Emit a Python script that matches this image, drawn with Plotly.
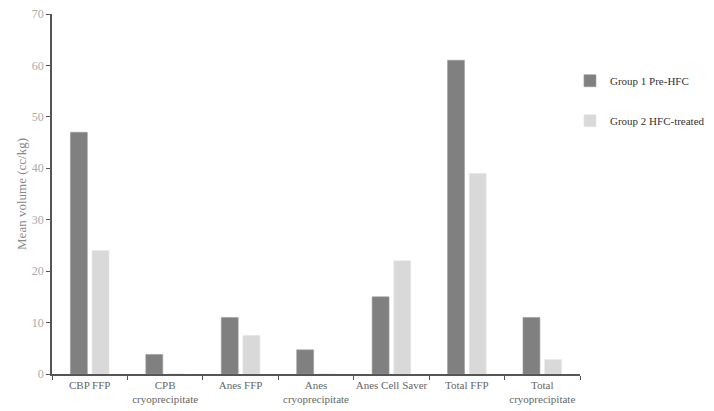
import plotly.graph_objects as go

categories = ["CBP FFP", "CPB<br>cryoprecipitate", "Anes FFP", "Anes<br>cryoprecipitate",
              "Anes Cell Saver", "Total FFP", "Total<br>cryoprecipitate"]
group1_pre_hfc = [47, 3.8, 11, 4.7, 15, 61, 11]
group2_hfc_treated = [24, 0, 7.5, 0, 22, 39, 2.8]

fig = go.Figure()
fig.add_trace(go.Bar(x=categories, y=group1_pre_hfc, name="Group 1 Pre-HFC",
                     marker=dict(color="#808080", line=dict(color="#9a9a9a", width=0.6)),
                     legendgroup="g1"))
fig.add_trace(go.Bar(x=categories, y=group2_hfc_treated, name="Group 2 HFC-treated",
                     marker=dict(color="#d9d9d9", line=dict(color="#e6e6e6", width=0.6)),
                     legendgroup="g2"))

fig.update_layout(
    width=706, height=403,
    margin=dict(l=44, r=134, t=6, b=37, autoexpand=False),
    paper_bgcolor="white", plot_bgcolor="white",
    barmode="group", bargap=0.425, bargroupgap=0.22,
    font=dict(family="Liberation Serif, Times New Roman, serif", size=12, color="#777"),
    showlegend=True,
    legend=dict(x=0.981, y=0.855, xanchor="left", yanchor="top",
                font=dict(size=11, color="#333"), tracegroupgap=21,
                itemwidth=30),
    xaxis=dict(showline=True, linecolor="#555", linewidth=1.5, automargin=False,
               ticks="outside", tickson="boundaries", ticklen=4, tickcolor="#555",
               tickangle=0, tickfont=dict(size=11, color="#666"), showgrid=False),
    yaxis=dict(range=[0, 70], dtick=10, showline=True, linecolor="#555", linewidth=1.5,
               automargin=False, ticklabeloverflow="allow",
               ticks="outside", ticklen=4, tickcolor="#555", showgrid=False, zeroline=False,
               tickfont=dict(size=12, color="#aaa"),
               title=dict(text="Mean volume (cc/kg)", font=dict(size=13, color="#888"), standoff=2)),
)

fig.write_html("out.html")
